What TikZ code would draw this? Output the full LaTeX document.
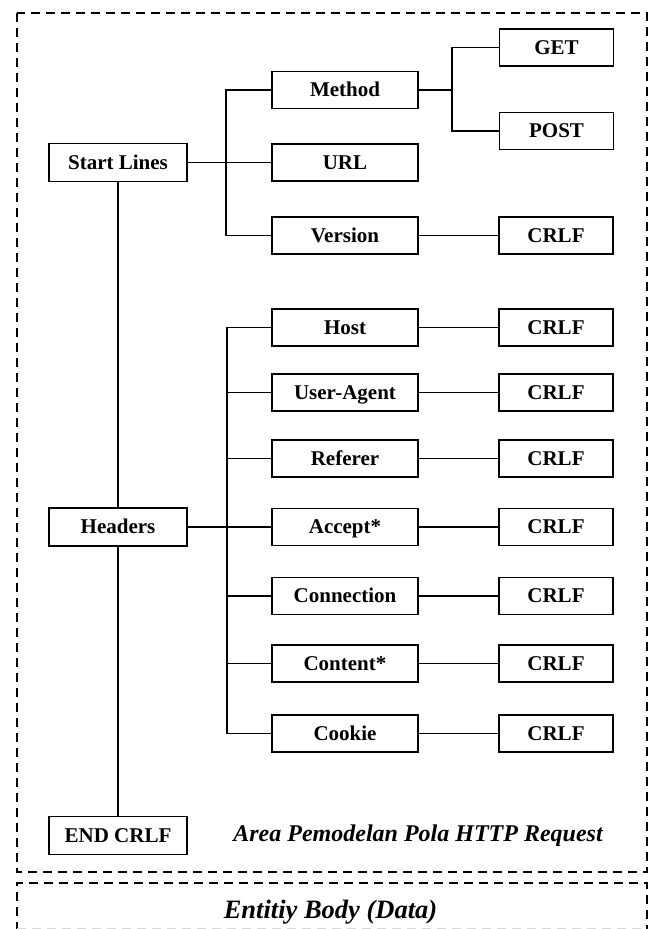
\documentclass[tikz,border=0pt]{standalone}
\usepackage{fontspec}
\setmainfont{Liberation Serif}
\begin{document}
\begin{tikzpicture}[x=1pt,y=-1pt,
  box/.style={draw,line width=1.6pt,inner sep=0pt,minimum height=37pt,
    font=\fontsize{21}{21}\selectfont\bfseries,text height=13.5pt,text depth=0pt},
  leftbox/.style={box,minimum width=138pt,minimum height=38pt},
  midbox/.style={box,minimum width=146pt},
  endbox/.style={box,minimum width=114pt},
  wire/.style={line width=1.4pt},
  frame/.style={line width=2.2pt,dash pattern=on 9pt off 6pt},
  caption/.style={inner sep=0pt,anchor=base,font=\bfseries\itshape}]
\useasboundingbox (0,0) rectangle (656,929);

% outer frames
\draw[frame] (17,13) rectangle (647,872);
\draw[frame] (17,931) -- (17,883) -- (647,883) -- (647,931);
\draw[line width=1pt,dash pattern=on 9pt off 6pt,black!15] (17,928) -- (647,928);

% left column
\node[leftbox] (sl)  at (118,162.5) {Start Lines};
\node[leftbox] (hd)  at (118,527)   {Headers};
\node[leftbox] (end) at (118,835.5) {END CRLF};

% start line parts
\node[midbox] (method)  at (345,90)    {Method};
\node[midbox] (url)     at (345,162.5) {URL};
\node[midbox] (version) at (345,235.5) {Version};
\node[endbox] (get)  at (556.5,47.5) {GET};
\node[endbox] (post) at (556.5,131)  {POST};
\node[endbox] (c0)   at (556,235.5)  {CRLF};

% header fields
\node[midbox] (host) at (345,327.5) {Host};
\node[midbox] (ua)   at (345,392.5) {User-Agent};
\node[midbox] (ref)  at (345,458.5) {Referer};
\node[midbox] (acc)  at (345,527)   {Accept*};
\node[midbox] (conn) at (345,596)   {Connection};
\node[midbox] (cont) at (345,663.5) {Content*};
\node[midbox] (cook) at (345,733.5) {Cookie};
\foreach \n/\y in {c1/327.5,c2/392.5,c3/458.5,c4/527,c5/596,c6/663.5,c7/733.5}
  \node[endbox] (\n) at (556,\y) {CRLF};

% branch rails
\coordinate (b1) at (226,0);
\coordinate (b2) at (227,0);
\coordinate (b3) at (452,0);

% connectors
\draw[wire] (sl.south) -- (hd.north);
\draw[wire] (hd.south) -- (end.north);

\draw[wire] (method.west) -| (b1 |- version.west) -- (version.west);
\draw[wire] (sl.east) -- (url.west);

\draw[wire] (get.west) -| (b3 |- post.west) -- (post.west);
\draw[wire] (method.east) -- (method.east -| b3);
\draw[wire] (version.east) -- (c0.west);

\draw[wire] (host.west) -| (b2 |- cook.west) -- (cook.west);
\foreach \m in {ua,ref,conn,cont}
  \draw[wire] (\m.west) -- (\m.west -| b2);
\draw[wire] (hd.east) -- (acc.west);

\foreach \m/\n in {host/c1,ua/c2,ref/c3,acc/c4,conn/c5,cont/c6,cook/c7}
  \draw[wire] (\m.east) -- (\n.west);

% captions
\node[caption,font=\fontsize{24}{24}\selectfont\bfseries\itshape] (area) at (418,841)
  {Area Pemodelan Pola HTTP Request};
\node[caption,font=\fontsize{26.5}{26.5}\selectfont\bfseries\itshape] (body) at (330.5,918)
  {Entitiy Body (Data)};
\end{tikzpicture}
\end{document}
